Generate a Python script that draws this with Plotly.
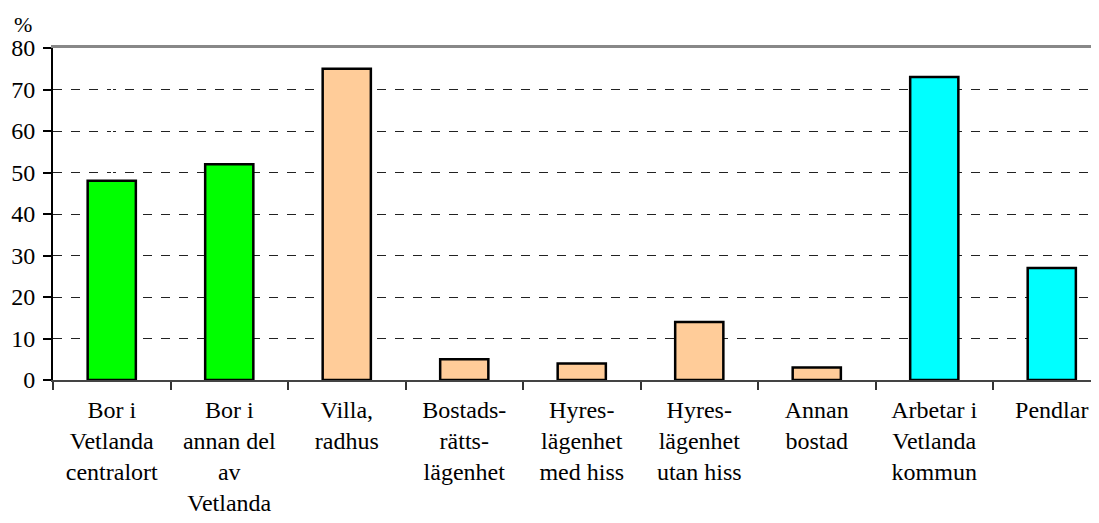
import plotly.graph_objects as go

categories = [
    "Bor i<br>Vetlanda<br>centralort",
    "Bor i<br>annan del<br>av<br>Vetlanda",
    "Villa,<br>radhus",
    "Bostads-<br>rätts-<br>lägenhet",
    "Hyres-<br>lägenhet<br>med hiss",
    "Hyres-<br>lägenhet<br>utan hiss",
    "Annan<br>bostad",
    "Arbetar i<br>Vetlanda<br>kommun",
    "Pendlar",
]
values = [48, 52, 75, 5, 4, 14, 3, 73, 27]
colors = ["#00FF00", "#00FF00", "#FFCC99", "#FFCC99", "#FFCC99",
          "#FFCC99", "#FFCC99", "#00FFFF", "#00FFFF"]
y_ticks = [0, 10, 20, 30, 40, 50, 60, 70, 80]

font = "'Liberation Serif', 'Times New Roman', serif"

fig = go.Figure()
fig.add_trace(go.Bar(
    x=categories, y=values, width=0.41,
    marker=dict(color=colors, line=dict(color="black", width=2.5)),
    hoverinfo="skip",
))

fig.update_layout(
    width=1099, height=523,
    margin=dict(l=45, r=0, t=40, b=151, autoexpand=False),
    plot_bgcolor="white", paper_bgcolor="white",
    showlegend=False,
    font=dict(family=font, size=24, color="black"),
    xaxis=dict(
        type="category",
        range=[-0.5, 8.47],
        tickson="boundaries",
        ticks="outside", ticklen=8, tickcolor="#333", tickwidth=1.5,
        showline=True, linecolor="#444", linewidth=1.5,
        showgrid=False, automargin=False,
        tickfont=dict(family=font, size=24),
        tickangle=0, ticklabelstandoff=7,
    ),
    xaxis2=dict(
        overlaying="x", side="top", showline=True, linecolor="#888",
        linewidth=2.5, showticklabels=False, ticks="", showgrid=False,
        range=[-0.5, 8.47], automargin=False,
    ),
    yaxis=dict(
        range=[0, 80], tickvals=y_ticks,
        ticks="outside", ticklen=8, tickcolor="black", tickwidth=1.5,
        showline=True, linecolor="black", linewidth=2,
        showgrid=True, gridcolor="#222", griddash="dash", gridwidth=1,
        zeroline=False, automargin=False,
        tickfont=dict(family=font, size=24), ticklabelstandoff=3,
    ),
)
fig.add_trace(go.Scatter(x=[None], y=[None], xaxis="x2", showlegend=False, hoverinfo="skip"))
fig.add_annotation(text="%", xref="paper", yref="paper", x=-0.039, y=1.0,
                   yshift=38, xanchor="left", yanchor="top", showarrow=False,
                   font=dict(family=font, size=22))

fig.write_html("out.html")
